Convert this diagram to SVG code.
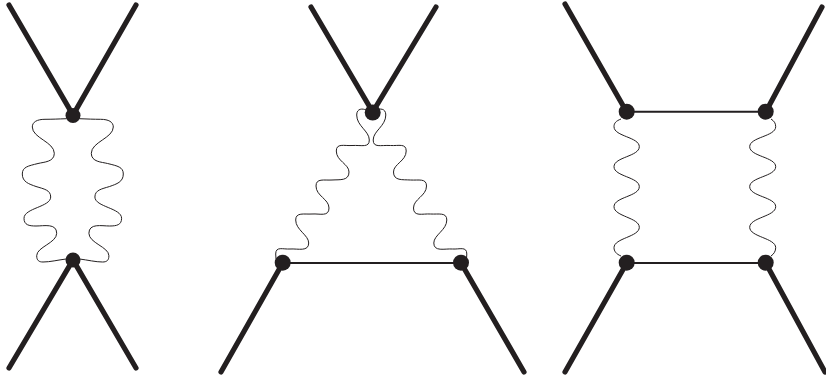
<svg xmlns="http://www.w3.org/2000/svg" width="826" height="379" viewBox="0 0 826 379">
<style>
.thick{stroke:#231f20;stroke-width:5.2;stroke-linecap:round;fill:none}
.line{stroke:#231f20;stroke-width:1.9;fill:none}
.wave{stroke:#231f20;stroke-width:1;fill:none}
.dot{fill:#231f20}
</style>
<defs>
<path id="w1" d="M66.7,118.7 C58,119 52,119.3 45,119.3 C37,119.3 32.3,122 32.3,127 C32.3,138 54.3,142 54.3,153.3 C54.3,162 44,162 38,163.5 C28,166 22.3,167 22.3,174 C22.3,182 29,184 36,186.5 C44,189 50.7,190 50.7,197 C50.7,207 24,208 24,218.3 C24,225 29,226 36,226 C44,226 56.7,223 56.7,233.3 C56.7,243 36.7,247 36.7,255.7 C36.7,260.5 39,262 43,262 C50,262 58,260 66,259"/>
<path id="w2" d="M366,110 C363,108.5 356.7,108 356.7,115 C356.7,126 369.3,131 369.3,140 C369.3,148 362,145 352,145.5 C344,146 336.3,143 336.3,151 C336.3,161 349,164 349,172 C349,181 340,179.5 332,180 C324,180.5 316,178 316,186 C316,196 329,199 329,208 C329,217 320,213.5 312,214 C304,214.5 295.7,212 295.7,220 C295.7,230 308.7,235 308.7,243 C308.7,252 298,248.5 290,249 C283,249.5 275.7,246 275.7,254 L276,259"/>
</defs>
<g id="connectors">
<path class="thick" d="M9,5L73,115L136,5M9,368L73,260L136,368"/>
<path class="thick" d="M311,7L372.7,112L436,7M221,372L282.7,263M524,372L461,263"/>
<path class="thick" d="M565,4L626.7,112M822,7L765.7,112M565,372L626.7,263M825,372L765.7,263"/>
<path class="line" d="M282.7,263H461M626.7,111.7H765.7M626.7,263H765.7"/>
<use href="#w1" class="wave"/>
<use href="#w1" class="wave" transform="matrix(-1 0 0 1 145.6 0)"/>
<use href="#w2" class="wave"/>
<use href="#w2" class="wave" transform="matrix(-1 0 0 1 742.5 0)"/>
<path class="wave" d="M621,119 C616,121 614,123 614,126.7 C614,136.5 639.3,137 639.3,146.7 C639.3,156.5 614,157 614,166.7 C614,176.5 639.3,177 639.3,186.7 C639.3,196.5 614,197 614,206.7 C614,216.5 639.3,217.5 639.3,227.3 C639.3,237 614,238 614,247.7 C614,251 616,254 621,256"/>
<path class="wave" d="M771,119 C774,121 775.7,123 775.7,126.7 C775.7,136.5 749.7,137 749.7,146.7 C749.7,156.5 775.7,157 775.7,166.7 C775.7,176.5 749.7,177 749.7,186.7 C749.7,196.5 775.7,197 775.7,206.7 C775.7,216.5 749.7,217.5 749.7,227.3 C749.7,237 775.7,238 775.7,247.7 C775.7,251 774,254 771,256"/>
</g>
<g id="n1"><circle class="dot" cx="73" cy="115.5" r="7.5"/></g>
<g id="n2"><circle class="dot" cx="73" cy="260" r="7.5"/></g>
<g id="n3"><circle class="dot" cx="372.7" cy="112.5" r="8"/></g>
<g id="n4"><circle class="dot" cx="282.7" cy="262.7" r="8"/></g>
<g id="n5"><circle class="dot" cx="461" cy="262.7" r="8"/></g>
<g id="n6"><circle class="dot" cx="626.7" cy="111.7" r="8"/></g>
<g id="n7"><circle class="dot" cx="765.7" cy="111.7" r="8"/></g>
<g id="n8"><circle class="dot" cx="626.7" cy="262.7" r="8"/></g>
<g id="n9"><circle class="dot" cx="765.7" cy="262.7" r="8"/></g>
</svg>
